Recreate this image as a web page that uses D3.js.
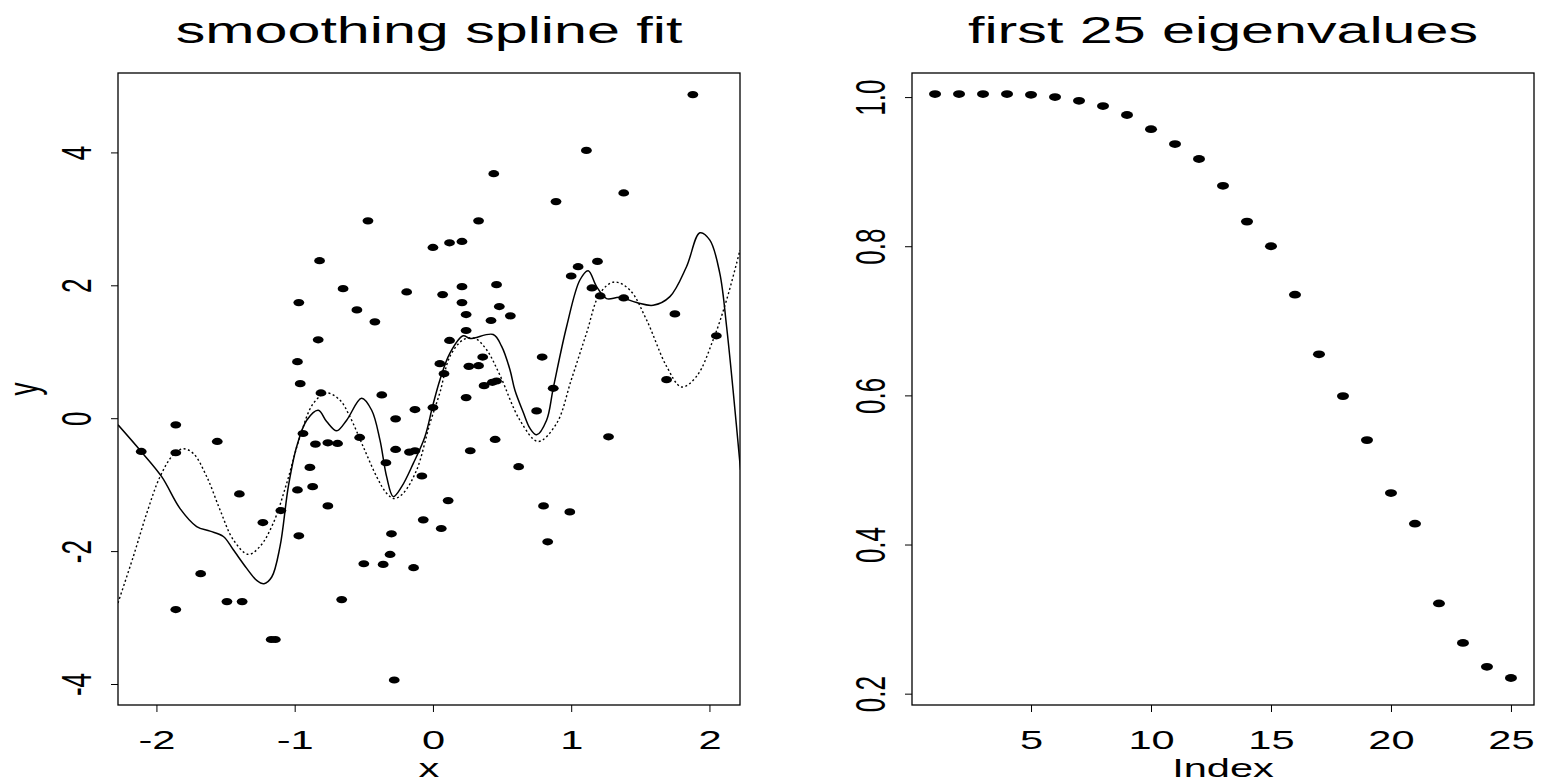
<!DOCTYPE html>
<html>
<head>
<meta charset="utf-8">
<script src="https://cdn.jsdelivr.net/npm/d3@7"></script>
<style>
  body { margin: 0; background: #fff; }
  text { font-family: "Liberation Sans", Arial, Helvetica, sans-serif; fill: #000; }
</style>
</head>
<body>
<svg id="chart" width="1541" height="781"></svg>
<script>
// scatter data (left panel)
const xs = [-0.47, 0.00, -0.82, -0.65, -0.19, 0.07, -0.97, -0.55, -0.42, -0.83,
    -0.98, 0.05, -0.96, 1.88, 1.11, 0.44, 0.89, 1.38, 0.33, 0.12,
    0.21, 1.19, 1.05, 1.00, 0.21, 0.46, 1.15, 1.21, 1.38, 0.21,
    0.48, 0.24, 0.56, 0.42, 1.75, 0.24, 0.12, 2.05, 0.36, 0.79,
    0.26, 0.33, 0.08, 0.37, 0.43, 0.46, 0.87, 1.69, -0.81, -0.37,
    -1.86, -0.27, -0.13, 0.00, -2.11, -1.86, -1.56, -0.94, -0.85, -0.76,
    -0.69, -0.53, -0.27, -0.17, -0.13, -0.34, -0.89, -0.08, -0.98, -0.87,
    -1.40, -1.10, -0.76, -1.23, -0.97, -0.30, -0.07, 0.06, -0.31, -0.50,
    -0.36, -0.14, -1.68, -1.49, -1.38, -0.66, -1.86, -1.17, -1.14, -0.28,
    0.24, 0.75, 1.27, 0.45, 0.27, 0.62, 0.11, 0.80, 0.99, 0.83];
const ys = [2.97, 2.57, 2.37, 1.95, 1.90, 1.86, 1.74, 1.63, 1.45, 1.18,
    0.85, 0.82, 0.52, 4.87, 4.03, 3.68, 3.26, 3.39, 2.97, 2.64,
    2.66, 2.36, 2.28, 2.14, 1.98, 2.01, 1.96, 1.84, 1.81, 1.74,
    1.68, 1.56, 1.54, 1.47, 1.57, 1.32, 1.17, 1.24, 0.92, 0.92,
    0.78, 0.79, 0.67, 0.49, 0.54, 0.56, 0.45, 0.58, 0.38, 0.35,
    -0.10, -0.01, 0.13, 0.16, -0.50, -0.52, -0.35, -0.23, -0.39, -0.37,
    -0.38, -0.29, -0.47, -0.51, -0.49, -0.67, -0.74, -0.87, -1.08, -1.03,
    -1.14, -1.39, -1.32, -1.57, -1.77, -1.74, -1.53, -1.66, -2.05, -2.19,
    -2.20, -2.25, -2.34, -2.76, -2.76, -2.73, -2.88, -3.33, -3.33, -3.94,
    0.31, 0.11, -0.28, -0.32, -0.49, -0.73, -1.24, -1.32, -1.41, -1.86];

// smoothing spline fit (solid)
const fitX = [-2.278, -2.111, -1.962, -1.829, -1.709, -1.612, -1.516, -1.444, -1.347, -1.275,
    -1.222, -1.166, -1.106, -1.046, -0.986, -0.913, -0.829, -0.769, -0.696, -0.624,
    -0.516, -0.443, -0.383, -0.335, -0.287, -0.226, -0.142, -0.058, 0.000, 0.051,
    0.123, 0.219, 0.268, 0.436, 0.497, 0.557, 0.593, 0.653, 0.701, 0.750,
    0.822, 0.870, 0.967, 1.063, 1.123, 1.184, 1.256, 1.352, 1.473, 1.593,
    1.714, 1.834, 1.931, 2.003, 2.075, 2.124, 2.171, 2.225];
const fitY = [-0.10, -0.50, -0.88, -1.36, -1.63, -1.70, -1.78, -1.98, -2.26, -2.44,
    -2.49, -2.39, -1.93, -1.03, -0.43, -0.03, 0.12, -0.05, -0.19, -0.03,
    0.30, 0.12, -0.33, -0.88, -1.18, -1.03, -0.68, -0.28, 0.20, 0.58,
    0.98, 1.24, 1.20, 1.26, 1.08, 0.73, 0.42, 0.09, -0.15, -0.25,
    -0.03, 0.45, 1.38, 2.08, 2.22, 1.98, 1.80, 1.82, 1.74, 1.70,
    1.83, 2.28, 2.79, 2.68, 2.18, 1.38, 0.42, -0.78];

// true function (dotted)
const trueX = [-2.278, -2.167, -2.070, -1.974, -1.878, -1.805, -1.733, -1.636, -1.540, -1.444,
    -1.336, -1.251, -1.155, -1.058, -0.962, -0.866, -0.769, -0.672, -0.600, -0.504,
    -0.407, -0.335, -0.280, -0.215, -0.118, -0.022, 0.051, 0.123, 0.219, 0.304,
    0.388, 0.484, 0.629, 0.761, 0.894, 1.001, 1.111, 1.208, 1.311, 1.424,
    1.545, 1.690, 1.798, 1.907, 2.027, 2.124, 2.221];
const trueY = [-2.78, -2.08, -1.43, -0.88, -0.55, -0.46, -0.53, -0.88, -1.38, -1.83,
    -2.05, -1.93, -1.58, -0.98, -0.28, 0.22, 0.38, 0.27, 0.02, -0.43,
    -0.88, -1.13, -1.21, -1.13, -0.78, -0.08, 0.39, 0.93, 1.18, 1.20,
    1.03, 0.65, -0.03, -0.35, -0.08, 0.58, 1.28, 1.88, 2.05, 1.93,
    1.48, 0.78, 0.47, 0.63, 1.18, 1.78, 2.53];

// eigenvalues (right panel)
const eigenIndex = [1, 2, 3, 4, 5, 6, 7, 8, 9, 10, 11, 12, 13, 14, 15, 16, 17, 18, 19, 20, 21, 22, 23, 24, 25];
const eigenValues = [1.004, 1.004, 1.004, 1.004, 1.003, 1.000, 0.995, 0.988, 0.976, 0.957,
    0.937, 0.917, 0.881, 0.833, 0.800, 0.735, 0.655, 0.599, 0.540, 0.469,
    0.428, 0.321, 0.268, 0.236, 0.221];

const leftTicksX = [-2, -1, 0, 1, 2];
const leftTicksY = [-4, -2, 0, 2, 4];
const rightTicksX = [5, 10, 15, 20, 25];
const rightTicksY = [0.2, 0.4, 0.6, 0.8, 1.0];

const SX = 1.6;          // the original is stretched horizontally
const plotTop = 73, plotBottom = 705;
const svg = d3.select('#chart');

function panel(opts) {
    const g = svg.append('g');
    const x = d3.scaleLinear().domain(opts.xDomain).range([opts.left, opts.right]);
    const y = d3.scaleLinear().domain(opts.yDomain).range([plotBottom, plotTop]);

    const clipId = 'clip' + opts.left;
    svg.append('clipPath').attr('id', clipId)
        .append('rect')
        .attr('x', opts.left).attr('y', plotTop)
        .attr('width', opts.right - opts.left).attr('height', plotBottom - plotTop);

    // axes (plain hyphen for negatives, like R)
    const ax = g.append('g')
        .attr('transform', `translate(0,${plotBottom})`)
        .call(d3.axisBottom(x).tickValues(opts.ticksX).tickSize(7).tickSizeOuter(0).tickFormat(d => String(d)));
    ax.select('.domain').remove();
    ax.selectAll('.tick line').attr('stroke', '#000').attr('stroke-width', 1);
    ax.selectAll('.tick text')
        .attr('y', 44).attr('dy', 0)
        .attr('transform', `scale(${SX},1)`)
        .attr('font-size', 26)
        .attr('font-family', null);

    const ay = g.append('g')
        .attr('transform', `translate(${opts.left},0)`)
        .call(d3.axisLeft(y).tickValues(opts.ticksY).tickSize(7).tickSizeOuter(0).tickFormat(opts.fmtY));
    ay.select('.domain').remove();
    ay.selectAll('.tick line').attr('stroke', '#000').attr('stroke-width', 1);
    ay.selectAll('.tick text')
        .attr('x', 0).attr('y', -17).attr('dy', 0)
        .attr('text-anchor', 'middle')
        .attr('transform', `scale(${SX},1) rotate(-90)`)
        .attr('font-size', 26)
        .attr('font-family', null);

    // box
    g.append('rect')
        .attr('x', opts.left).attr('y', plotTop)
        .attr('width', opts.right - opts.left).attr('height', plotBottom - plotTop)
        .attr('fill', 'none').attr('stroke', '#000').attr('stroke-width', 1.3);

    // titles and labels
    const cx = (opts.left + opts.right) / 2;
    g.append('text')
        .attr('transform', `translate(${cx},43) scale(${SX},1)`)
        .attr('text-anchor', 'middle').attr('font-size', 37)
        .text(opts.title);
    g.append('text')
        .attr('transform', `translate(${cx},777) scale(${SX},1)`)
        .attr('text-anchor', 'middle').attr('font-size', 26)
        .text(opts.xLabel);
    if (opts.yLabel) {
        g.append('text')
            .attr('transform', `translate(${opts.left - 80},${(plotTop + plotBottom) / 2}) scale(${SX},1) rotate(-90)`)
            .attr('text-anchor', 'middle').attr('font-size', 26)
            .text(opts.yLabel);
    }

    return { g, x, y, clipId };
}

// left panel: smoothing spline fit
const L = panel({
    left: 118, right: 740,
    xDomain: [-2.278, 2.221], yDomain: [-4.316, 5.195],
    ticksX: leftTicksX, ticksY: leftTicksY, fmtY: d => String(d),
    title: 'smoothing spline fit', xLabel: 'x', yLabel: 'y'
});

const line = d3.line().curve(d3.curveCatmullRom.alpha(0.5));

L.g.append('path')
    .datum(fitX.map((d, i) => [L.x(d), L.y(fitY[i])]))
    .attr('clip-path', `url(#${L.clipId})`)
    .attr('d', line)
    .attr('fill', 'none').attr('stroke', '#000').attr('stroke-width', 1.5);

L.g.append('path')
    .datum(trueX.map((d, i) => [L.x(d), L.y(trueY[i])]))
    .attr('clip-path', `url(#${L.clipId})`)
    .attr('d', line)
    .attr('fill', 'none').attr('stroke', '#000').attr('stroke-width', 1.4)
    .attr('stroke-dasharray', '2,2.5');

L.g.selectAll('ellipse.pt')
    .data(xs)
    .enter()
    .append('ellipse')
    .attr('class', 'pt')
    .attr('cx', d => L.x(d))
    .attr('cy', (d, i) => L.y(ys[i]))
    .attr('rx', 5.4).attr('ry', 3.6)
    .attr('fill', '#000');

// right panel: eigenvalues
const R = panel({
    left: 912, right: 1534,
    xDomain: [0.04, 25.96], yDomain: [0.1848, 1.0323],
    ticksX: rightTicksX, ticksY: rightTicksY, fmtY: d3.format('.1f'),
    title: 'first 25 eigenvalues', xLabel: 'Index'
});

R.g.selectAll('ellipse.ev')
    .data(eigenValues)
    .enter()
    .append('ellipse')
    .attr('class', 'ev')
    .attr('cx', (d, i) => R.x(eigenIndex[i]))
    .attr('cy', d => R.y(d))
    .attr('rx', 6).attr('ry', 3.9)
    .attr('fill', '#000');
</script>
</body>
</html>
